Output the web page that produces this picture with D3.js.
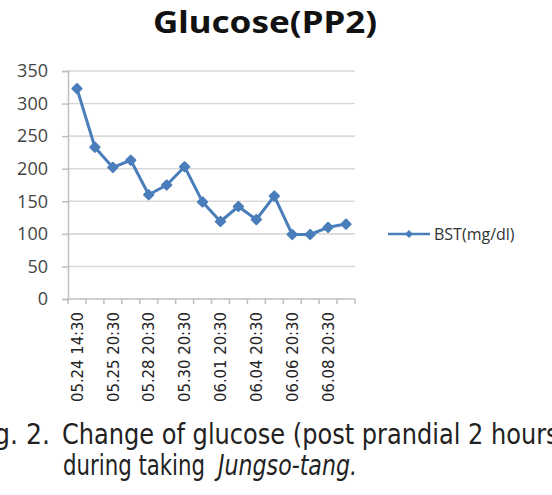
<!DOCTYPE html>
<html>
<head>
<meta charset="utf-8">
<script src="https://cdn.jsdelivr.net/npm/d3@7"></script>
<style>
  body { margin: 0; background: #fff; }
  svg { display: block; }
</style>
</head>
<body>
<svg id="chart" width="552" height="495"></svg>
<script>
// data
var categories = ["05.24 14:30", "05.24 20:30", "05.25 20:30", "05.26 20:30",
                  "05.28 20:30", "05.29 20:30", "05.30 20:30", "05.31 20:30",
                  "06.01 20:30", "06.02 20:30", "06.04 20:30", "06.05 20:30",
                  "06.06 20:30", "06.07 20:30", "06.08 20:30", "06.09 20:30"];
var bst = [323, 233, 202, 213, 160, 175, 203, 149, 119, 142, 122, 158, 99, 99, 110, 115];
var yTicks = [0, 50, 100, 150, 200, 250, 300, 350];
var seriesName = "BST(mg/dl)";

var svg = d3.select("#chart");
var blue = "#4a7ebb";
var plotLeft = 68, plotRight = 355, plotTop = 71, plotBottom = 299;

var x = d3.scaleBand().domain(categories).range([plotLeft, plotRight]);
var y = d3.scaleLinear().domain([0, 350]).range([plotBottom, plotTop]);

// title
svg.append("text")
    .attr("x", 153)
    .attr("y", 33)
    .attr("textLength", 224)
    .attr("lengthAdjust", "spacingAndGlyphs")
    .style("font-family", "'Noto Sans', sans-serif")
    .style("font-weight", "bold")
    .style("font-size", "30px")
    .attr("fill", "#111")
    .text("Glucose(PP2)");

// gridlines
svg.append("g").selectAll("line.grid")
    .data(yTicks.filter(function(d) { return d > 0; }))
    .enter().append("line")
    .attr("class", "grid")
    .attr("x1", plotLeft).attr("x2", plotRight)
    .attr("y1", function(d) { return y(d); })
    .attr("y2", function(d) { return y(d); })
    .attr("stroke", "#d9d9d9")
    .attr("stroke-width", 1.6);

// y axis
var yAxis = svg.append("g")
    .attr("transform", "translate(" + plotLeft + ",0)")
    .call(d3.axisLeft(y).tickValues(yTicks).tickSize(6).tickPadding(14));
yAxis.select(".domain").attr("stroke", "#bfbfbf").attr("stroke-width", 1.5);
yAxis.selectAll(".tick line").attr("stroke", "#bfbfbf").attr("stroke-width", 1.5);
yAxis.selectAll(".tick text")
    .attr("fill", "#444")
    .style("font-family", "'Open Sans', sans-serif")
    .style("font-size", "18px");

// x axis: ticks between categories, label every second one
var xg = svg.append("g");
xg.append("line")
    .attr("x1", plotLeft).attr("x2", plotRight)
    .attr("y1", plotBottom).attr("y2", plotBottom)
    .attr("stroke", "#bfbfbf").attr("stroke-width", 1.5);
xg.selectAll("line.tick")
    .data(d3.range(categories.length + 1))
    .enter().append("line")
    .attr("class", "tick")
    .attr("x1", function(i) { return plotLeft + i * x.step(); })
    .attr("x2", function(i) { return plotLeft + i * x.step(); })
    .attr("y1", plotBottom).attr("y2", plotBottom + 5)
    .attr("stroke", "#bfbfbf").attr("stroke-width", 1.5);
xg.selectAll("text")
    .data(categories.filter(function(d, i) { return i % 2 === 0; }))
    .enter().append("text")
    .attr("transform", function(d) {
        return "translate(" + (x(d) + x.bandwidth() / 2) + "," + (plotBottom + 13) + ") rotate(-90)";
    })
    .attr("text-anchor", "end")
    .attr("dy", "0.36em")
    .attr("textLength", 90)
    .attr("lengthAdjust", "spacingAndGlyphs")
    .attr("fill", "#222")
    .style("font-family", "'DejaVu Sans Condensed', 'DejaVu Sans', sans-serif")
    .style("font-size", "16px")
    .text(function(d) { return d; });

// series line
var line = d3.line()
    .x(function(d, i) { return x(categories[i]) + x.bandwidth() / 2; })
    .y(function(d) { return y(d); });
svg.append("path")
    .datum(bst)
    .attr("d", line)
    .attr("fill", "none")
    .attr("stroke", blue)
    .attr("stroke-width", 3)
    .attr("stroke-linejoin", "round");

var diamond = d3.symbol().type(d3.symbolDiamond2).size(55);
svg.selectAll("path.marker")
    .data(bst)
    .enter().append("path")
    .attr("class", "marker")
    .attr("d", diamond)
    .attr("transform", function(d, i) {
        return "translate(" + (x(categories[i]) + x.bandwidth() / 2) + "," + y(d) + ")";
    })
    .attr("fill", blue)
    .attr("stroke", blue)
    .attr("stroke-width", 2)
    .attr("stroke-linejoin", "round");

// legend
var lg = svg.append("g").attr("transform", "translate(388,234)");
lg.append("line")
    .attr("x1", 0).attr("x2", 42)
    .attr("stroke", blue).attr("stroke-width", 2.5);
lg.append("path")
    .attr("d", d3.symbol().type(d3.symbolDiamond2).size(40))
    .attr("transform", "translate(21,0)")
    .attr("fill", blue);
lg.append("text")
    .attr("x", 46)
    .attr("dy", "0.35em")
    .attr("fill", "#333")
    .style("font-family", "'Open Sans', sans-serif")
    .style("font-size", "16px")
    .text(seriesName);

// caption
var cap = svg.append("g")
    .style("font-family", "'DejaVu Sans Condensed', sans-serif")
    .style("font-size", "28px")
    .attr("fill", "#222");
cap.append("text")
    .attr("x", 50).attr("y", 444)
    .attr("text-anchor", "end")
    .text("Fig. 2.");
cap.append("text")
    .attr("x", 62).attr("y", 444)
    .attr("textLength", 506)
    .attr("lengthAdjust", "spacingAndGlyphs")
    .text("Change of glucose (post prandial 2 hours)");
cap.append("text")
    .attr("x", 63).attr("y", 475)
    .attr("textLength", 142)
    .attr("lengthAdjust", "spacingAndGlyphs")
    .text("during taking");
cap.append("text")
    .attr("x", 218).attr("y", 475)
    .attr("textLength", 139)
    .attr("lengthAdjust", "spacingAndGlyphs")
    .style("font-style", "italic")
    .text("Jungso-tang.");
</script>
</body>
</html>
